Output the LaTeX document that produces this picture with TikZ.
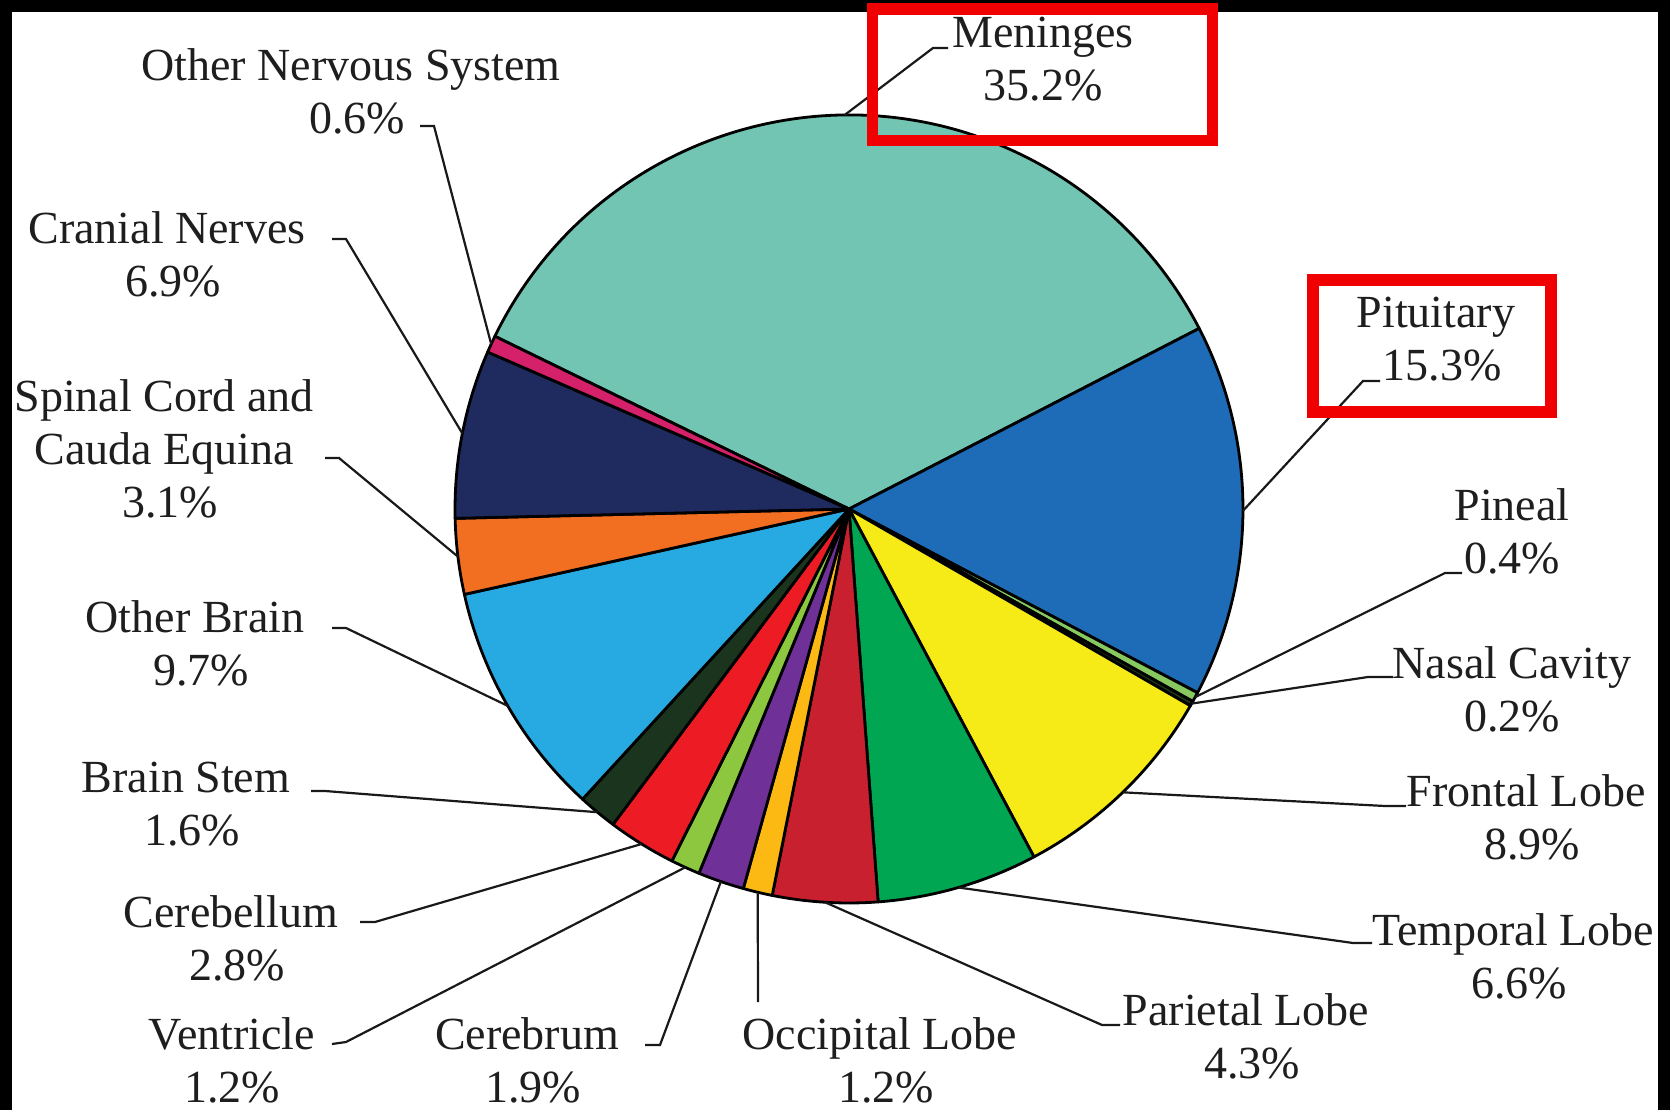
\documentclass[tikz,border=0pt]{standalone}
\usepackage{fontspec}
\setmainfont{Liberation Serif}
\usetikzlibrary{calc}
\definecolor{brnmen}{RGB}{113,197,178}
\definecolor{brnpit}{RGB}{30,108,184}
\definecolor{brnpin}{RGB}{135,200,95}
\definecolor{brnnas}{RGB}{25,55,25}
\definecolor{brnfro}{RGB}{246,235,22}
\definecolor{brntem}{RGB}{0,166,81}
\definecolor{brnpar}{RGB}{200,32,47}
\definecolor{brnocc}{RGB}{253,185,19}
\definecolor{brncbr}{RGB}{111,49,152}
\definecolor{brnven}{RGB}{141,198,63}
\definecolor{brncbl}{RGB}{237,28,36}
\definecolor{brnbst}{RGB}{27,52,30}
\definecolor{brnobr}{RGB}{39,170,225}
\definecolor{brnspi}{RGB}{242,111,33}
\definecolor{brncra}{RGB}{31,42,94}
\definecolor{brnons}{RGB}{213,32,106}
\definecolor{txtgray}{RGB}{30,30,30}
\definecolor{boxred}{RGB}{240,0,0}
% percentage line, set a little to the right as in the chart
\newcommand{\pctline}[1]{\hspace*{6pt}#1}

\begin{document}
\begin{tikzpicture}[x=0.5pt,y=0.5pt,
  slice/.style={draw=black,line width=1.4pt,line join=round},
  lbl/.style={align=center,font=\fontsize{23}{26.5}\selectfont,text=txtgray,inner sep=2pt},
  leader/.style={draw=black!90,line width=1.1pt},
  hilite/.style={draw=boxred,line width=5.85pt}]
  \useasboundingbox (0,0) rectangle (1670,1110);
  \clip (0,0) rectangle (1670,1110);
  % black frame on top, left and right
  \fill[black] (0,0) rectangle (1670,1110);
  \fill[white] (12,0) rectangle (1658,1098);
  % pie, clockwise from Meninges; 1% = 3.6 deg
  \coordinate (pc) at (849,601);
  \filldraw[slice,fill=brnmen](pc) -- ++(154:394)    arc[start angle=154,    end angle=27.28,   radius=394] -- cycle;
  \filldraw[slice,fill=brnpit](pc) -- ++(27.28:394)  arc[start angle=27.28,  end angle=-27.8,   radius=394] -- cycle;
  \filldraw[slice,fill=brnpin](pc) -- ++(-27.8:394)  arc[start angle=-27.8,  end angle=-29.24,  radius=394] -- cycle;
  \filldraw[slice,fill=brnnas](pc) -- ++(-29.24:394) arc[start angle=-29.24, end angle=-29.96,  radius=394] -- cycle;
  \filldraw[slice,fill=brnfro](pc) -- ++(-29.96:394) arc[start angle=-29.96, end angle=-62,     radius=394] -- cycle;
  \filldraw[slice,fill=brntem](pc) -- ++(-62:394)    arc[start angle=-62,    end angle=-85.76,  radius=394] -- cycle;
  \filldraw[slice,fill=brnpar](pc) -- ++(-85.76:394) arc[start angle=-85.76, end angle=-101.24, radius=394] -- cycle;
  \filldraw[slice,fill=brnocc](pc) -- ++(-101.24:394) arc[start angle=-101.24,end angle=-105.56, radius=394] -- cycle;
  \filldraw[slice,fill=brncbr](pc) -- ++(-105.56:394) arc[start angle=-105.56,end angle=-112.4,  radius=394] -- cycle;
  \filldraw[slice,fill=brnven](pc) -- ++(-112.4:394) arc[start angle=-112.4, end angle=-116.72, radius=394] -- cycle;
  \filldraw[slice,fill=brncbl](pc) -- ++(-116.72:394) arc[start angle=-116.72,end angle=-126.8,  radius=394] -- cycle;
  \filldraw[slice,fill=brnbst](pc) -- ++(-126.8:394) arc[start angle=-126.8, end angle=-132.56, radius=394] -- cycle;
  \filldraw[slice,fill=brnobr](pc) -- ++(-132.56:394) arc[start angle=-132.56,end angle=-167.48, radius=394] -- cycle;
  \filldraw[slice,fill=brnspi](pc) -- ++(-167.48:394) arc[start angle=-167.48,end angle=-178.64, radius=394] -- cycle;
  \filldraw[slice,fill=brncra](pc) -- ++(-178.64:394) arc[start angle=-178.64,end angle=-203.48, radius=394] -- cycle;
  \filldraw[slice,fill=brnons](pc) -- ++(-203.48:394) arc[start angle=-203.48,end angle=-206,    radius=394] -- cycle;
  % leader ends on the rim, at the middle of each slice
  \coordinate (pMen) at ($(pc)+(90.64:394)$);
  \coordinate (pPit) at ($(pc)+(-0.26:394)$);
  \coordinate (pPin) at ($(pc)+(-28.52:394)$);
  \coordinate (pNas) at ($(pc)+(-29.6:394)$);
  \coordinate (pFro) at ($(pc)+(-45.98:394)$);
  \coordinate (pTem) at ($(pc)+(-73.88:394)$);
  \coordinate (pPar) at ($(pc)+(-93.5:394)$);
  \coordinate (pOcc) at ($(pc)+(-103.4:394)$);
  \coordinate (pCbr) at ($(pc)+(-108.98:394)$);
  \coordinate (pVen) at ($(pc)+(-114.56:394)$);
  \coordinate (pCbl) at ($(pc)+(-121.76:394)$);
  \coordinate (pBst) at ($(pc)+(-129.68:394)$);
  \coordinate (pObr) at ($(pc)+(-150.02:394)$);
  \coordinate (pSpi) at ($(pc)+(-173.06:394)$);
  \coordinate (pCra) at ($(pc)+(-191.06:394)$);
  \coordinate (pOns) at ($(pc)+(155.26:394)$);
  % labels
  \node[lbl] (lMen) at (1043,1050.5) {Meninges\\35.2\%};
  \node[lbl] (lPit) at (1436,770.5) {Pituitary\\\pctline{15.3\%}};
  \node[lbl] (lPin) at (1512,578.5) {Pineal\\0.4\%};
  \node[lbl] (lNas) at (1512,420.5) {Nasal Cavity\\0.2\%};
  \node[lbl] (lFro) at (1526,292.5) {Frontal Lobe\\\pctline{8.9\%}};
  \node[lbl] (lTem) at (1513,153.5) {Temporal Lobe\\\pctline{6.6\%}};
  \node[lbl] (lPar) at (1246,73.5) {Parietal Lobe\\\pctline{4.3\%}};
  \node[lbl] (lOcc) at (880,49.5) {Occipital Lobe\\\pctline{1.2\%}};
  \node[lbl] (lCbr) at (527,49.5) {Cerebrum\\\pctline{1.9\%}};
  \node[lbl] (lVen) at (232,49.5) {Ventricle\\1.2\%};
  \node[lbl] (lCbl) at (231,171.5) {Cerebellum\\\pctline{2.8\%}};
  \node[lbl] (lBst) at (186,305.5) {Brain Stem\\\pctline{1.6\%}};
  \node[lbl] (lObr) at (195,466.5) {Other Brain\\\pctline{9.7\%}};
  \node[lbl] (lSpi) at (164,661.5) {Spinal Cord and\\Cauda Equina\\\pctline{3.1\%}};
  \node[lbl] (lCra) at (167,855.5) {Cranial Nerves\\\pctline{6.9\%}};
  \node[lbl] (lOns) at (351,1018.5) {Other Nervous System\\\pctline{0.6\%}};
  % knees and tick ends of the leaders
  \coordinate (kMen) at (933,1062);  \coordinate (eMen) at (948,1062);
  \coordinate (kPit) at (1363,729);  \coordinate (ePit) at (1380,729);
  \coordinate (kPin) at (1445,537);  \coordinate (ePin) at (1462,537);
  \coordinate (kNas) at (1368,433);  \coordinate (eNas) at (1393,433);
  \coordinate (kFro) at (1385,304);  \coordinate (eFro) at (1406,304);
  \coordinate (kTem) at (1353,167);  \coordinate (eTem) at (1372,167);
  \coordinate (kPar) at (1102,85);   \coordinate (ePar) at (1120,85);
  \coordinate (eOcc) at (758,108);
  \coordinate (kCbr) at (660,65);    \coordinate (eCbr) at (645,65);
  \coordinate (kVen) at (346,68);    \coordinate (eVen) at (332,66);
  \coordinate (kCbl) at (375,188);   \coordinate (eCbl) at (360,188);
  \coordinate (kBst) at (325,319);   \coordinate (eBst) at (311,319);
  \coordinate (kObr) at (346,482);   \coordinate (eObr) at (332,482);
  \coordinate (kSpi) at (339,652);   \coordinate (eSpi) at (325,652);
  \coordinate (kCra) at (346,871);   \coordinate (eCra) at (332,871);
  \coordinate (kOns) at (434,984);   \coordinate (eOns) at (420,984);
  \draw[leader] (pMen) -- (kMen) -- (eMen);
  \draw[leader] (pPit) -- (kPit) -- (ePit);
  \draw[leader] (pPin) -- (kPin) -- (ePin);
  \draw[leader] (pNas) -- (kNas) -- (eNas);
  \draw[leader] (pFro) -- (kFro) -- (eFro);
  \draw[leader] (pTem) -- (kTem) -- (eTem);
  \draw[leader] (pPar) -- (kPar) -- (ePar);
  \draw[leader] (pOcc) -- (eOcc);
  \draw[leader] (pCbr) -- (kCbr) -- (eCbr);
  \draw[leader] (pVen) -- (kVen) -- (eVen);
  \draw[leader] (pCbl) -- (kCbl) -- (eCbl);
  \draw[leader] (pBst) -- (kBst) -- (eBst);
  \draw[leader] (pObr) -- (kObr) -- (eObr);
  \draw[leader] (pSpi) -- (kSpi) -- (eSpi);
  \draw[leader] (pCra) -- (kCra) -- (eCra);
  \draw[leader] (pOns) -- (kOns) -- (eOns);
  % red highlight boxes
  \draw[hilite] (872.5,969.5) rectangle (1212.5,1101);
  \draw[hilite] (1313,698) rectangle (1551,830);
\end{tikzpicture}
\end{document}
